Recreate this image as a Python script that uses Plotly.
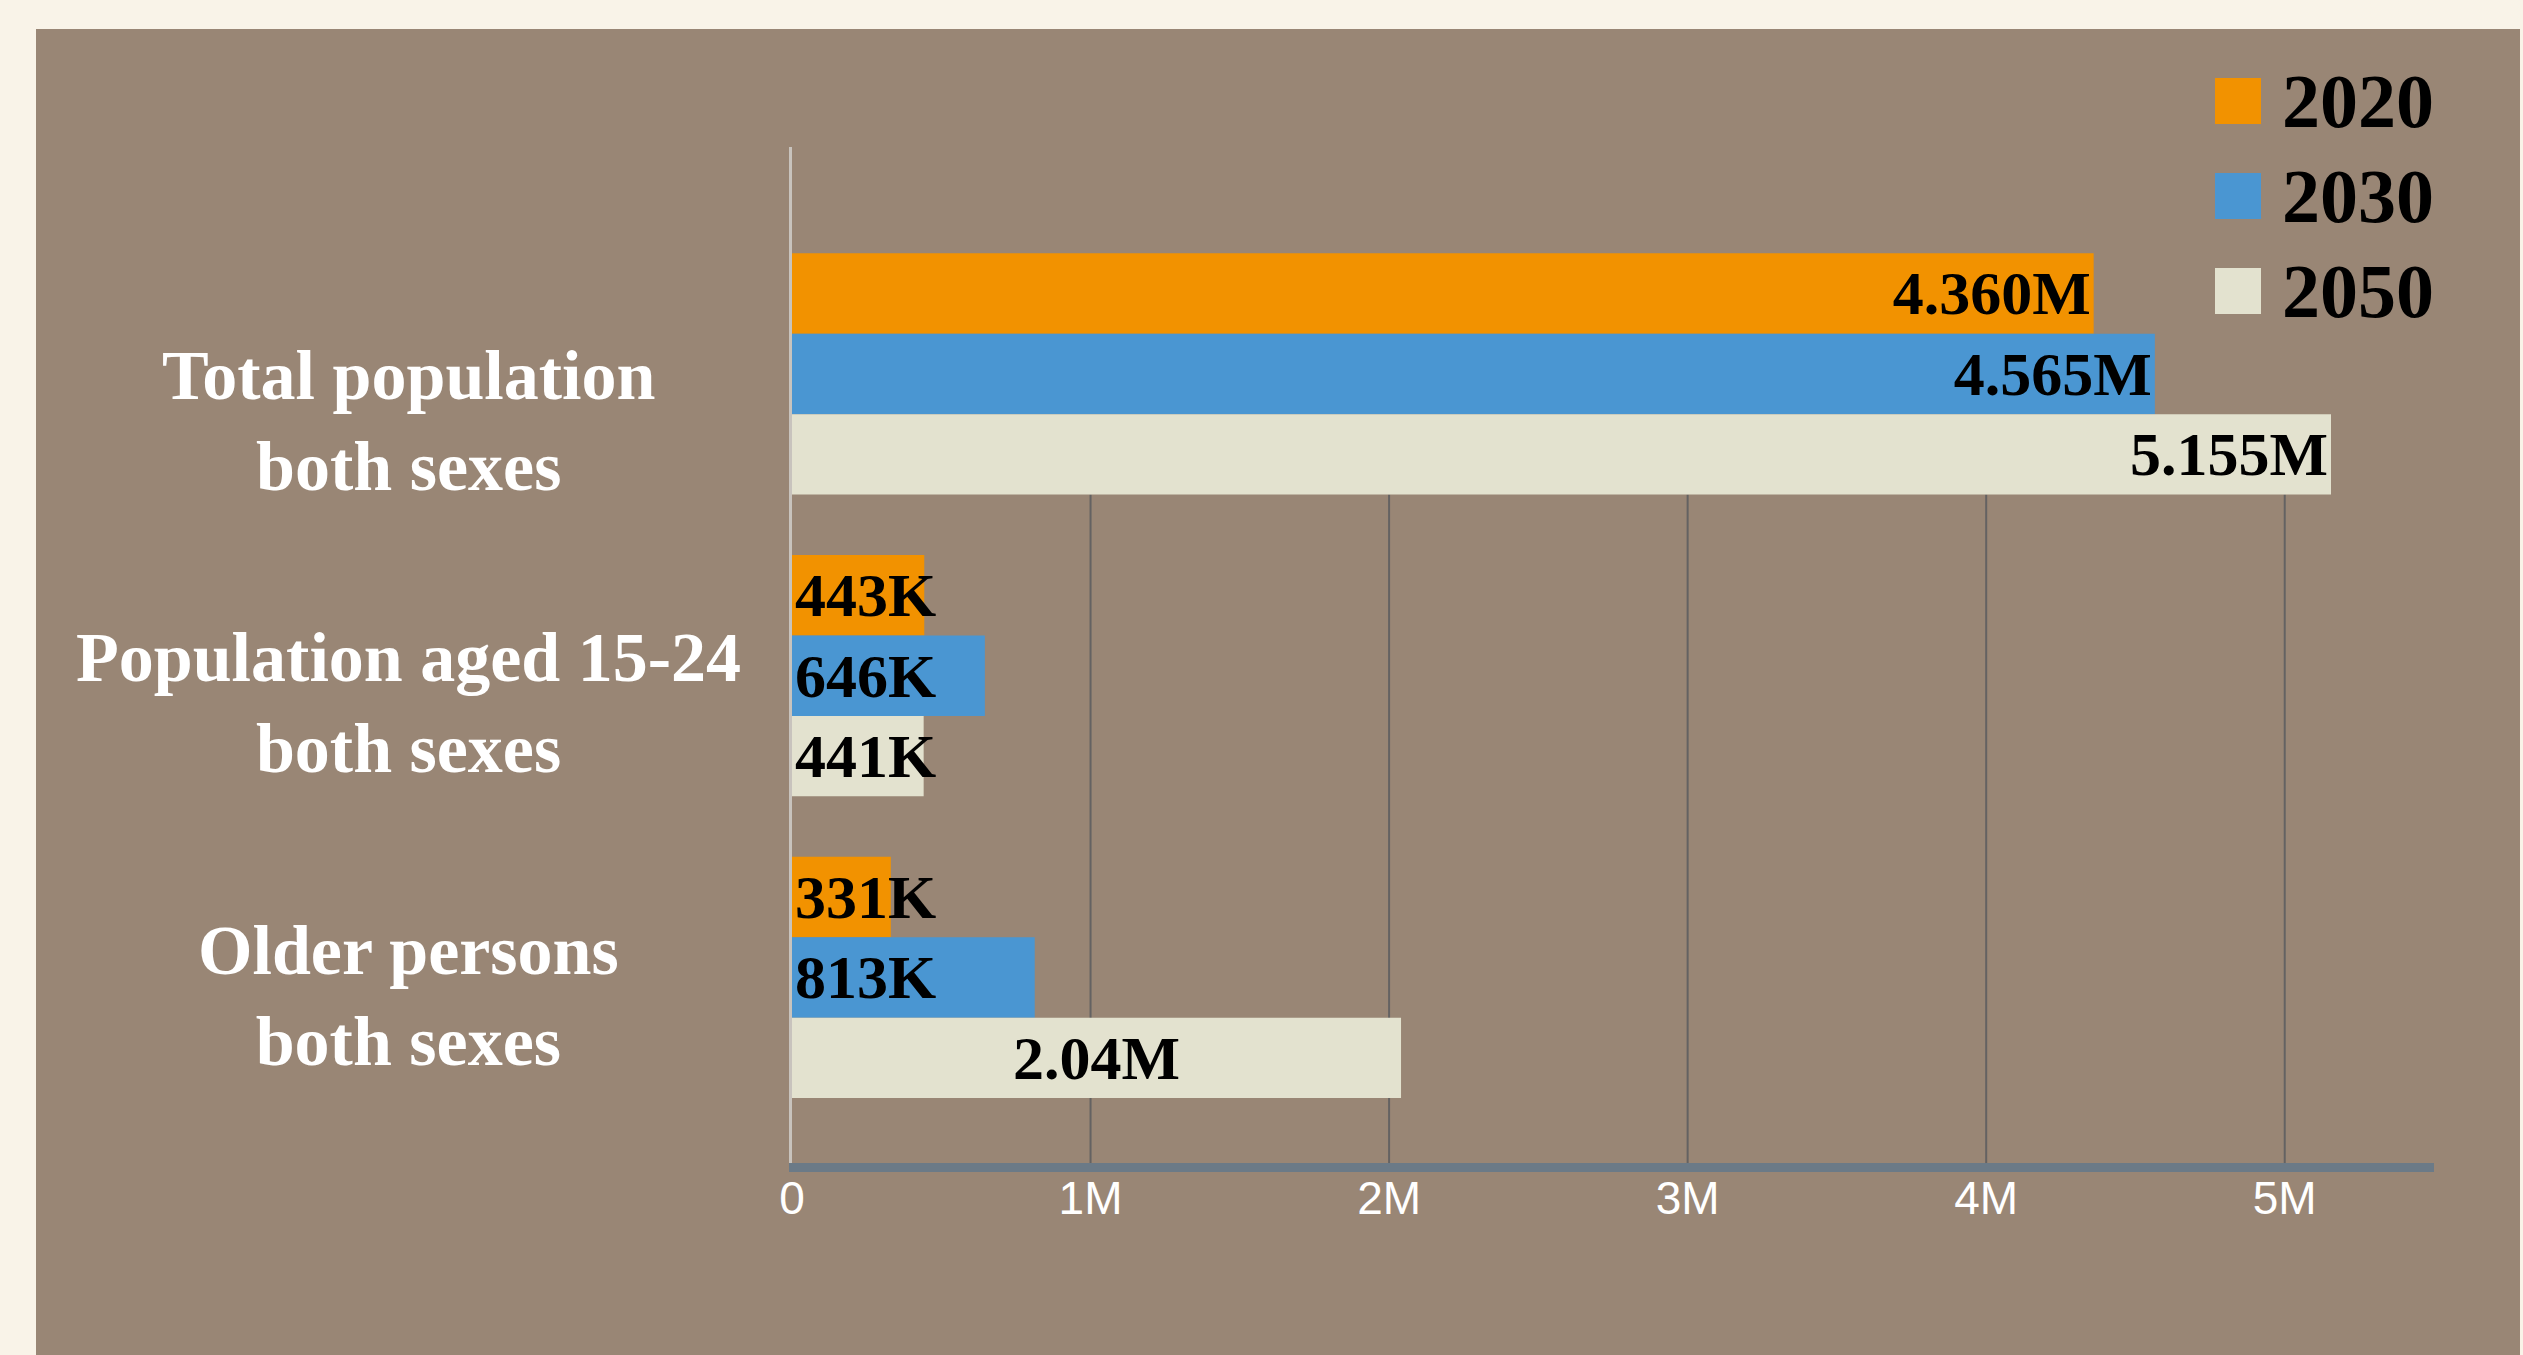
import plotly.graph_objects as go

# ---------------- data ----------------
categories = ["Total population<br>both sexes",
              "Population aged 15-24<br>both sexes",
              "Older persons<br>both sexes"]
category_keys = ["Total population", "Population aged 15-24", "Older persons"]
years = ["2020", "2030", "2050"]
values_2020 = [4360000, 443000, 331000]
values_2030 = [4565000, 646000, 813000]
values_2050 = [5155000, 441000, 2040000]
labels_2020 = ["4.360M", "443K", "331K"]
labels_2030 = ["4.565M", "646K", "813K"]
labels_2050 = ["5.155M", "441K", "2.04M"]
tick_values = [0, 1000000, 2000000, 3000000, 4000000, 5000000]
tick_labels = ["0", "1M", "2M", "3M", "4M", "5M"]

series_values = [values_2020, values_2030, values_2050]
series_labels = [labels_2020, labels_2030, labels_2050]

# ---------------- style ----------------
W, H = 2523, 1355
ML, MR, MT, MB = 792, 89, 147, 192
OUTER_BG = "#f9f3e8"
PANEL_BG = "#998675"
COLORS = ["#f29200", "#4a96d2", "#e3e2cf"]
SERIF = "Liberation Serif"
SANS = "Liberation Sans"


def px_to_paper_x(px):
    return (px - ML) / (W - ML - MR)


def px_to_paper_y(py):
    return (H - MB - py) / (H - MT - MB)


def anchor_for(v):
    if v >= 3000000:
        return "end"
    if v >= 1500000:
        return "middle"
    return "start"


fig = go.Figure()

for i, year in enumerate(years):
    vals = series_values[i]
    labs = series_labels[i]
    fig.add_trace(go.Bar(
        y=category_keys, x=vals, orientation="h", name=year,
        offsetgroup=year, marker=dict(color=COLORS[i], line=dict(width=0)),
        showlegend=False,
        hovertemplate=year + "<br>%{y}: %{x:,}<extra></extra>",
    ))
    for anc in ["end", "middle", "start"]:
        xs = [v if anchor_for(v) == anc else None for v in vals]
        if all(x is None for x in xs):
            continue
        ts = [l if anchor_for(v) == anc else "" for v, l in zip(vals, labs)]
        fig.add_trace(go.Bar(
            y=category_keys, x=xs, orientation="h", offsetgroup=year,
            marker=dict(color="rgba(0,0,0,0)", line=dict(width=0)),
            text=ts, textposition="inside", insidetextanchor=anc,
            textangle=0, constraintext="none", cliponaxis=False,
            textfont=dict(family=SERIF, size=62, color="#000000", weight="bold"),
            showlegend=False, hoverinfo="skip",
        ))

shapes = []
# brown panel
shapes.append(dict(type="rect", xref="paper", yref="paper", layer="below",
                   x0=px_to_paper_x(36), x1=px_to_paper_x(2520),
                   y0=px_to_paper_y(H + 5), y1=px_to_paper_y(29),
                   fillcolor=PANEL_BG, line=dict(width=0)))
# vertical grid lines (only below the first group)
for tv in tick_values[1:]:
    shapes.append(dict(type="line", xref="x", yref="y", layer="below",
                       x0=tv, x1=tv, y0=2.615, y1=0.4,
                       line=dict(color="#646262", width=2)))

annotations = []
label_shifts = [-47, -27, -19]
for key, text, ys in zip(category_keys, categories, label_shifts):
    annotations.append(dict(
        xref="paper", yref="y", x=px_to_paper_x(408), y=key,
        text=text, showarrow=False, xanchor="center", yanchor="middle",
        align="center", yshift=ys,
        font=dict(family=SERIF, size=70, color="#ffffff", weight="bold")))

# legend (drawn manually to get large swatches)
legend_rows_px = [101, 196, 291]
for i, year in enumerate(years):
    cy = legend_rows_px[i]
    shapes.append(dict(type="rect", xref="paper", yref="paper",
                       x0=px_to_paper_x(2215), x1=px_to_paper_x(2261),
                       y0=px_to_paper_y(cy + 23), y1=px_to_paper_y(cy - 23),
                       fillcolor=COLORS[i], line=dict(width=0)))
    annotations.append(dict(
        xref="paper", yref="paper", x=px_to_paper_x(2280), y=px_to_paper_y(cy),
        text=year, showarrow=False, xanchor="left", yanchor="middle",
        font=dict(family=SERIF, size=76, color="#000000", weight="bold")))

fig.update_layout(
    width=W, height=H,
    margin=dict(l=ML, r=MR, t=MT, b=MB, pad=0),
    paper_bgcolor=OUTER_BG, plot_bgcolor=PANEL_BG,
    barmode="group", bargap=0.2, bargroupgap=0,
    showlegend=False,
    shapes=shapes, annotations=annotations,
    xaxis=dict(range=[0, 5500000], tickvals=tick_values, ticktext=tick_labels,
               showgrid=False, zeroline=False, showline=True,
               linecolor="#6b7a87", linewidth=9, ticks="",
               ticklabelstandoff=-13,
               tickfont=dict(family=SANS, size=46, color="#ffffff"),
               fixedrange=True),
    yaxis=dict(categoryorder="array", categoryarray=category_keys,
               range=[2.615, -0.752], showticklabels=False, showgrid=False,
               zeroline=False, showline=True, linecolor="#c8c3bd", linewidth=3,
               ticks="", fixedrange=True),
)

fig.write_html(
    "out.html",
    config={"displayModeBar": False},
    post_script="document.body.style.margin='0px';"
                "document.body.style.background='" + OUTER_BG + "';"
                "document.body.style.overflow='hidden';",
)
